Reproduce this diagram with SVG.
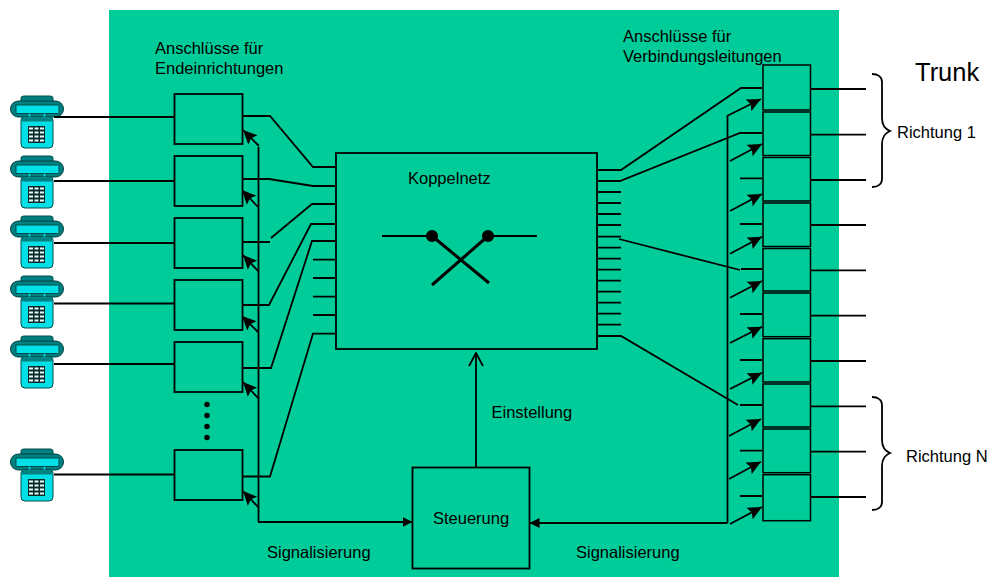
<svg xmlns="http://www.w3.org/2000/svg" xmlns:xlink="http://www.w3.org/1999/xlink" width="990" height="577" viewBox="0 0 990 577">
<style>
.l{fill:none;stroke:#000;stroke-width:1.8}
.b{fill:#00CC99;stroke:#000;stroke-width:1.8}
.p{fill:#00CC99;stroke:#000;stroke-width:1.500}
.t{font-family:"Liberation Sans",Arial,sans-serif;font-size:16.500px;fill:#000}
.k{fill:#000}
.w{fill:none;stroke:#000;stroke-width:3}
</style>
<defs>
<marker id="a" markerUnits="userSpaceOnUse" markerWidth="15" markerHeight="14" refX="14" refY="7" orient="auto"><path d="M0,0.500L14,7L0,13.500L2.500,7Z" fill="#000"/></marker>
<marker id="h" markerUnits="userSpaceOnUse" markerWidth="11" markerHeight="12" refX="10" refY="6" orient="auto"><path d="M0,1L10,6L0,11Z" fill="#000"/></marker>
<marker id="o" markerUnits="userSpaceOnUse" markerWidth="15" markerHeight="16" refX="14" refY="8" orient="auto"><path d="M1,1L14,8L1,15" fill="none" stroke="#000" stroke-width="1.8"/></marker>
<g id="phone">
<path d="M21,98Q21,96 24,96H50Q53,96 53,98V101L46,106H28L21,101Z" fill="#008080" stroke="#004C4C" stroke-width="1"/>
<rect x="10.500" y="101" width="53" height="16" rx="8" fill="#008080" stroke="#003F3F" stroke-width="1"/>
<rect x="16" y="105" width="43" height="8.500" fill="#00E0E6" stroke="#004C4C" stroke-width="1"/>
<path d="M28,113.500h3v4h-3ZM43,113.500h3v4h-3Z" fill="#00E0E6" stroke="#004C4C" stroke-width=".8"/>
<path d="M21,120Q21,117 24,117H50Q53,117 53,120V144Q53,148 49,148H25Q21,148 21,144Z" fill="#00E0E6" stroke="#004C4C" stroke-width="1"/>
<rect x="21.500" y="117.500" width="31" height="4" fill="#008080"/>
<rect x="28" y="126" width="17" height="17" fill="#0A2A2A"/>
<path d="M29,127.500h4v2h-4zM34.500,127.500h4v2h-4zM40,127.500h4v2h-4zM29,131.500h4v2h-4zM34.500,131.500h4v2h-4zM40,131.500h4v2h-4zM29,135.500h4v2h-4zM34.500,135.500h4v2h-4zM40,135.500h4v2h-4zM29,139.500h4v2h-4zM34.500,139.500h4v2h-4zM40,139.500h4v2h-4z" fill="#E8FFFF"/>
</g>
</defs>
<rect id="bg" x="109" y="10" width="730" height="567" fill="#00CC99"/>
<g id="phones">
<use id="phone1" xlink:href="#phone" href="#phone"/>
<use id="phone2" xlink:href="#phone" href="#phone" y="60"/>
<use id="phone3" xlink:href="#phone" href="#phone" y="120"/>
<use id="phone4" xlink:href="#phone" href="#phone" y="180"/>
<use id="phone5" xlink:href="#phone" href="#phone" y="240"/>
<use id="phone6" xlink:href="#phone" href="#phone" y="353"/>
</g>
<g id="connectors">
<path class="l" d="M54,117H174M54,181H174M54,243H174M54,303.500H174M54,364H174M54,474.500H174"/>
<path class="l" d="M243,116H270L313,167H336M243,179H269L313,186H336M243,242H270M271,238L312,204H336M243,305H269L311,224H336M243,368H271L312,241H336M243,476.500H270L313,333.600H336"/>
<path class="l" d="M313,259.700H336M313,278H336M313,296.700H336M313,315H336"/>
<path class="l" d="M258.500,147V522"/>
<g class="l">
<line x1="259" y1="146" x2="243" y2="130" marker-end="url(#a)"/>
<line x1="258" y1="207" x2="242" y2="190" marker-end="url(#a)"/>
<line x1="259" y1="272" x2="243" y2="255" marker-end="url(#a)"/>
<line x1="258" y1="332" x2="242" y2="316" marker-end="url(#a)"/>
<line x1="259" y1="399" x2="243" y2="382" marker-end="url(#a)"/>
<line x1="259" y1="508" x2="243" y2="491" marker-end="url(#a)"/>
<line x1="258" y1="522" x2="412.500" y2="522" marker-end="url(#h)"/>
<line x1="727.500" y1="523" x2="529.500" y2="523" marker-end="url(#h)"/>
<line x1="727" y1="116" x2="761" y2="99" marker-end="url(#a)"/>
<line x1="730" y1="161" x2="762" y2="144" marker-end="url(#a)"/>
<line x1="730" y1="211" x2="762" y2="194" marker-end="url(#a)"/>
<line x1="730" y1="253.700" x2="762" y2="236.700" marker-end="url(#a)"/>
<line x1="730" y1="297.700" x2="762" y2="281" marker-end="url(#a)"/>
<line x1="730" y1="343" x2="762" y2="326.700" marker-end="url(#a)"/>
<line x1="730" y1="389" x2="762" y2="372.700" marker-end="url(#a)"/>
<line x1="729" y1="436" x2="761" y2="419" marker-end="url(#a)"/>
<line x1="729" y1="479" x2="761" y2="461.700" marker-end="url(#a)"/>
<line x1="730" y1="524" x2="762" y2="507" marker-end="url(#a)"/>
</g>
<line class="l" x1="476" y1="467" x2="476" y2="353" marker-end="url(#o)"/>
<path class="l" d="M727.500,115.500V523"/>
<path class="l" d="M597,170H621L741,88H762M597,181H620L740,133H762M597,192H621M597,203H621M597,214H621M597,225H621M597,236.700H621M619,239L740,270M741,269H762M597,247.700H621M597,258.700H621M597,269.700H621M597,280.700H621M597,291.700H621M597,302.700H621M597,313.700H621M597,324.700H621M597,336H621L738,405M740,405H762"/>
<path class="l" d="M740,178.300H762M740,224H762M740,314H762M740,360H762M740,450.700H762M740,496H762"/>
<path class="l" d="M811,89H866M811,134.700H866M811,180H866M811,225H866M811,270.300H866M811,315.700H866M811,361H866M811,406.300H866M811,451.700H866M811,497H866"/>
</g>
<g id="box1"><rect class="b" x="174.500" y="94" width="68" height="50"/></g>
<g id="box2"><rect class="b" x="174.500" y="156" width="68" height="50"/></g>
<g id="box3"><rect class="b" x="174.500" y="218" width="68" height="50"/></g>
<g id="box4"><rect class="b" x="174.500" y="280" width="68" height="50"/></g>
<g id="box5"><rect class="b" x="174.500" y="342" width="68" height="50"/></g>
<g id="box6"><rect class="b" x="174.500" y="450" width="68" height="50"/></g>
<g id="dots"><circle class="k" cx="207" cy="404.500" r="2.700"/><circle class="k" cx="207" cy="415.500" r="2.700"/><circle class="k" cx="207" cy="426.500" r="2.700"/><circle class="k" cx="207" cy="437.500" r="2.700"/></g>
<g id="koppelnetz">
<rect class="b" x="336" y="153" width="261" height="196"/>
<text class="t" x="408" y="184">Koppelnetz</text>
<path class="l" d="M382,236H432M488,236H537"/>
<path class="w" d="M432,236L489,283M488,236L432,285"/>
<circle class="k" cx="432" cy="236" r="6"/><circle class="k" cx="488" cy="236" r="6"/>
</g>
<g id="steuerung">
<rect class="b" x="412.500" y="467.500" width="117" height="101"/>
<text class="t" x="433" y="524">Steuerung</text>
</g>
<g id="trunkports">
<rect class="p" x="763" y="65" width="47.500" height="45"/>
<rect class="p" x="763" y="112" width="47.500" height="43.500"/>
<rect class="p" x="763" y="157.500" width="47.500" height="43.500"/>
<rect class="p" x="763" y="203" width="47.500" height="43.500"/>
<rect class="p" x="763" y="248.500" width="47.500" height="42.500"/>
<rect class="p" x="763" y="293" width="47.500" height="43.700"/>
<rect class="p" x="763" y="338.700" width="47.500" height="43.300"/>
<rect class="p" x="763" y="384" width="47.500" height="43"/>
<rect class="p" x="763" y="429" width="47.500" height="43.700"/>
<rect class="p" x="763" y="474.700" width="47.500" height="46"/>
</g>
<g id="braces">
<path id="brace1" class="l" d="M872,74C878,74 882,77 882,82V118C882,125 885,129 890,131C885,133 882,137 882,144V179C882,184 878,187 872,187"/>
<path id="brace2" class="l" d="M872,397C878,397 882,400 882,405V440C882,447 885,451 890,453C885,455 882,459 882,466V502C882,507 878,510 872,510"/>
</g>
<g id="labels">
<text class="t" x="155" y="54">Anschlüsse für</text>
<text class="t" x="155" y="73.500">Endeinrichtungen</text>
<text class="t" x="623" y="41.500">Anschlüsse für</text>
<text class="t" x="623" y="61.500">Verbindungsleitungen</text>
<text class="t" x="915" y="80.500" style="font-size:25.500px">Trunk</text>
<text class="t" x="897" y="138">Richtung 1</text>
<text class="t" x="906" y="461.500">Richtung N</text>
<text class="t" x="491.500" y="418">Einstellung</text>
<text class="t" x="267" y="557.500">Signalisierung</text>
<text class="t" x="576" y="557.500">Signalisierung</text>
</g>
</svg>
